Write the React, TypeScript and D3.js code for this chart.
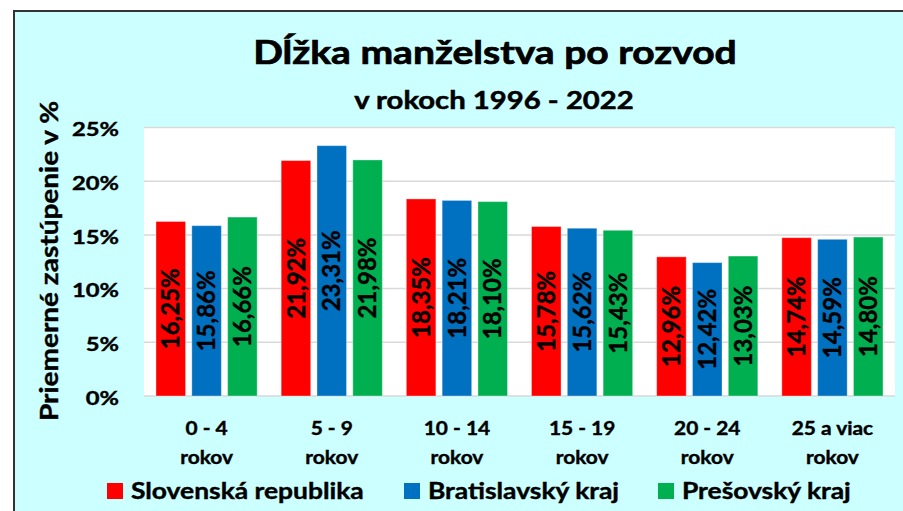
import React from "react";
import * as d3 from "d3";

const categories: string[][] = [
  ["0 - 4", "rokov"],
  ["5 - 9", "rokov"],
  ["10 - 14", "rokov"],
  ["15 - 19", "rokov"],
  ["20 - 24", "rokov"],
  ["25 a viac", "rokov"],
];
const seriesNames = ["Slovenská republika", "Bratislavský kraj", "Prešovský kraj"];
const seriesColors = ["#FF0000", "#0070C0", "#00B050"];
const slovensko = [16.25, 21.92, 18.35, 15.78, 12.96, 14.74];
const bratislava = [15.86, 23.31, 18.21, 15.62, 12.42, 14.59];
const presov = [16.66, 21.98, 18.1, 15.43, 13.03, 14.8];
const yTicks = [0, 5, 10, 15, 20, 25];

const W = 903;
const H = 511;
const FONT = "Lato, 'Open Sans', sans-serif";

type STextProps = {
  x: number;
  y: number;
  sx: number;
  size: number;
  anchor?: "start" | "middle" | "end";
  dy?: string;
  rotate?: number;
  weight?: number;
  children: React.ReactNode;
};

function SText({ x, y, sx, size, anchor = "start", dy, rotate = 0, weight = 0.4, children }: STextProps) {
  return (
    <text
      transform={`translate(${x},${y}) rotate(${rotate}) scale(${sx},1)`}
      textAnchor={anchor}
      dy={dy}
      fontSize={size}
      fontWeight="bold"
      fill="#000"
      stroke="#000"
      strokeWidth={weight}
    >
      {children}
    </text>
  );
}

export default function App() {
  const series = [slovensko, bratislava, presov];
  const plot = { left: 144, right: 895, top: 127.5, bottom: 396 };
  const x = d3
    .scaleBand<number>()
    .domain(d3.range(categories.length))
    .range([plot.left, plot.right])
    .paddingInner(0)
    .paddingOuter(0);
  const inner = d3
    .scaleBand<number>()
    .domain(d3.range(series.length))
    .range([12, x.bandwidth() - 12])
    .paddingInner(0.175);
  const y = d3.scaleLinear().domain([0, 25]).range([plot.bottom, plot.top]);
  const fmt = (v: number) => v.toFixed(2).replace(".", ",") + "%";

  const legendX = [107, 404, 658];

  return (
    <svg
      width={W}
      height={H}
      style={{ position: "fixed", left: 0, top: 0, fontFamily: FONT }}
    >
      <rect x={0} y={0} width={W} height={H} fill="#ffffff" />
      <rect x={14} y={11} width={W + 10} height={H + 10} fill="#CCFFFF" stroke="#333333" strokeWidth={2} />
      <SText x={495} y={64} sx={1.22} size={32} anchor="middle" weight={0.7}>
        Dĺžka manželstva po rozvod
      </SText>
      <SText x={494} y={109} sx={1.22} size={24} anchor="middle" weight={0.5}>
        v rokoch 1996 - 2022
      </SText>
      <rect
        x={plot.left}
        y={plot.top}
        width={plot.right - plot.left}
        height={plot.bottom - plot.top}
        fill="#ffffff"
      />
      {yTicks.map((t) => (
        <g key={t}>
          <line x1={plot.left} x2={plot.right} y1={y(t)} y2={y(t)} stroke="#D9D9D9" strokeWidth={1.5} />
          <SText x={119} y={y(t) + 2} sx={1.22} size={19.5} anchor="end" dy="0.35em">
            {t}%
          </SText>
        </g>
      ))}
      <SText x={58} y={261} sx={1.12} size={25} anchor="middle" rotate={-90}>
        Priemerné zastúpenie v %
      </SText>
      {categories.map((c, ci) => (
        <g key={ci}>
          {series.map((s, si) => {
            const bx = (x(ci) as number) + (inner(si) as number);
            const bw = inner.bandwidth();
            const v = s[ci];
            const cy = (y(v) + y(0)) / 2;
            const cx = bx + bw / 2;
            return (
              <g key={si}>
                <rect
                  x={bx}
                  y={y(v)}
                  width={bw}
                  height={y(0) - y(v)}
                  fill={seriesColors[si]}
                  stroke="rgba(255,255,255,0.35)"
                  strokeWidth={1}
                />
                <text
                  transform={`translate(${cx},${cy}) rotate(-90)`}
                  textAnchor="middle"
                  dy="0.36em"
                  fontSize={24}
                  fontWeight="bold"
                  fill="#000"
                  stroke="#000"
                  strokeWidth={0.4}
                >
                  {fmt(v)}
                </text>
              </g>
            );
          })}
          {c.map((line, li) => (
            <SText
              key={li}
              x={(x(ci) as number) + x.bandwidth() / 2}
              y={428 + li * 29}
              sx={1.1}
              size={19}
              anchor="middle"
              dy="0.35em"
            >
              {line}
            </SText>
          ))}
        </g>
      ))}
      {seriesNames.map((n, i) => (
        <g key={n}>
          <rect x={legendX[i]} y={483} width={16} height={16} fill={seriesColors[i]} />
          <SText x={legendX[i] + 24} y={491} sx={1.2} size={22} dy="0.36em">
            {n}
          </SText>
        </g>
      ))}
    </svg>
  );
}
